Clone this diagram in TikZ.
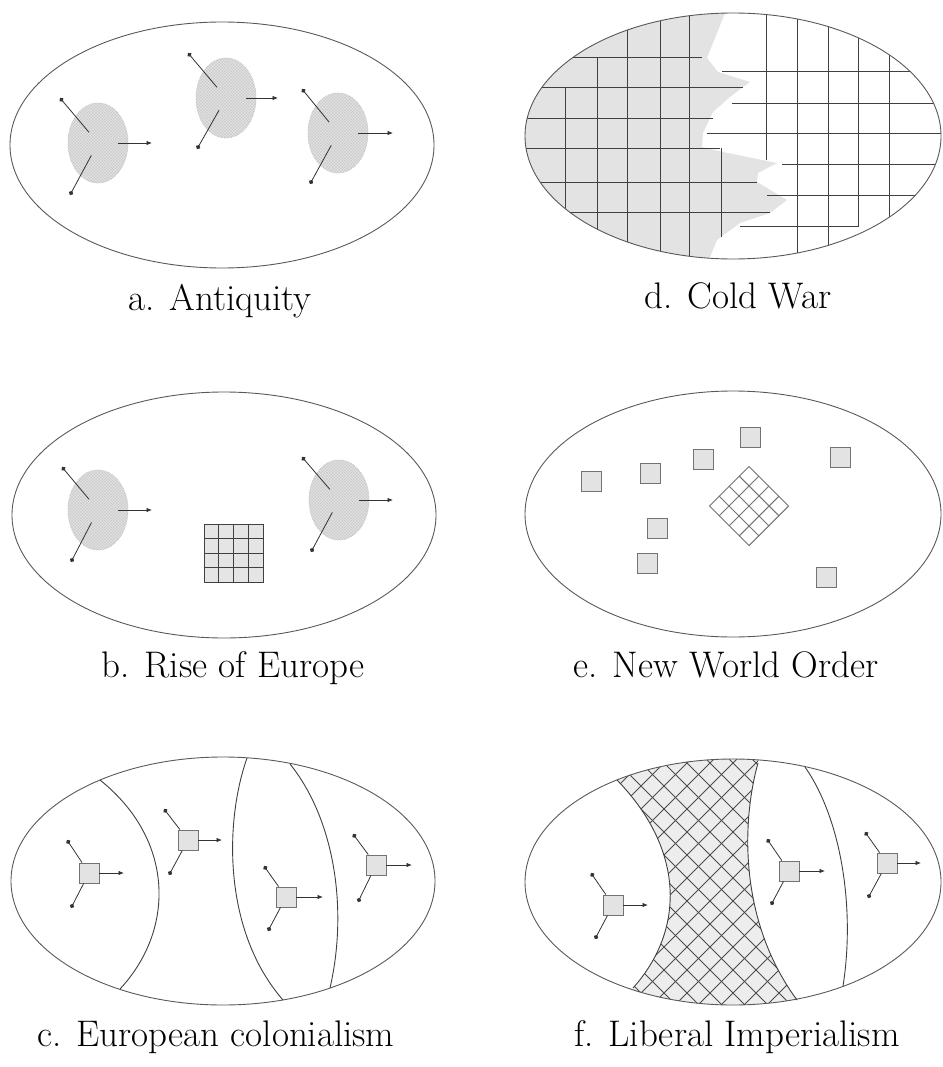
\documentclass[tikz,border=0pt]{standalone}
\usetikzlibrary{arrows.meta,patterns,shapes.geometric,calc}
\begin{document}
\begin{tikzpicture}[x=1pt,y=-1pt,
 frame/.style={draw=black!65, line width=0.9pt},
 blob/.style={ellipse, minimum width=60pt, minimum height=80pt, inner sep=0pt, draw=gray!45, densely dotted, line width=0.8pt, preaction={fill=gray!25}, pattern=crosshatch, pattern color=gray!45},
 ray/.style={draw=black!80, line width=0.8pt, -{Circle[length=4.5pt]}},
 push/.style={draw=black!80, line width=0.8pt, -{Latex[length=5.5pt,width=4.5pt]}},
 colony/.style={rectangle, minimum size=20pt, inner sep=0pt, draw=black!55, line width=0.9pt, fill=gray!22},
 state/.style={rectangle, minimum size=20pt, inner sep=0pt, draw=black!55, line width=0.9pt, fill=gray!22},
 border/.style={draw=black!75, line width=0.9pt},
 gridline/.style={draw=black!75, line width=0.8pt},
 caption/.style={font=\fontsize{37}{40}\selectfont, anchor=base, inner sep=0pt},
]
\useasboundingbox (0,0) rectangle (942,1067);

% ---------- a. Antiquity ----------
\draw[frame] (222,145) ellipse [x radius=212, y radius=123];
\node[blob] (a1) at (98,143) {};
\node[blob] (a2) at (226,98) {};
\node[blob] (a3) at (338,133) {};
\coordinate (a1u) at (60,98);  \coordinate (a1d) at (70,195);  \coordinate (a1r) at (152,143);
\coordinate (a2u) at (188,53); \coordinate (a2d) at (197,149); \coordinate (a2r) at (278,98);
\coordinate (a3u) at (302,89); \coordinate (a3d) at (310,184); \coordinate (a3r) at (393,133);
\foreach \b in {a1,a2,a3}{
  \draw[ray, shorten <=14pt] (\b.center) -- (\b u);
  \draw[ray, shorten <=14pt] (\b.center) -- (\b d);
  \draw[push, shorten <=20pt] (\b.center) -- (\b r);
}
\node[caption] (la) at (220,310) {a. Antiquity};

% ---------- b. Rise of Europe ----------
\draw[frame] (224,515) ellipse [x radius=212, y radius=123];
\node[blob] (b1) at (98,510) {};
\node[blob] (b2) at (339,500) {};
\coordinate (b1u) at (62,467);  \coordinate (b1d) at (71,562);  \coordinate (b1r) at (152,510);
\coordinate (b2u) at (302,457); \coordinate (b2d) at (311,552); \coordinate (b2r) at (393,500);
\foreach \b in {b1,b2}{
  \draw[ray, shorten <=14pt] (\b.center) -- (\b u);
  \draw[ray, shorten <=14pt] (\b.center) -- (\b d);
  \draw[push, shorten <=20pt] (\b.center) -- (\b r);
}
\node[rectangle, minimum width=59pt, minimum height=58pt, inner sep=0pt, fill=gray!20, gridline] (bg) at (233.5,553) {};
\foreach \i in {1,2,3}{
  \draw[gridline] ($(bg.north west)!\i/4!(bg.north east)$) -- ($(bg.south west)!\i/4!(bg.south east)$);
  \draw[gridline] ($(bg.north west)!\i/4!(bg.south west)$) -- ($(bg.north east)!\i/4!(bg.south east)$);
}
\node[caption] (lb) at (233,677) {b. Rise of Europe};

% ---------- c. European colonialism ----------
\draw[frame] (223,881) ellipse [x radius=212, y radius=124];
\draw[border] (100,780) .. controls (175,840) and (175,930) .. (120,989);
\draw[border] (247,758) .. controls (225,820) and (222,930) .. (283,1000);
\draw[border] (290,764) .. controls (335,820) and (348,910) .. (330,988);
\coordinate (c1u) at (67,840);  \coordinate (c1d) at (71,908);  \coordinate (c1r) at (124,873);
\coordinate (c2u) at (164,809); \coordinate (c2d) at (169,875); \coordinate (c2r) at (222,840);
\coordinate (c3u) at (264,866); \coordinate (c3d) at (268,931); \coordinate (c3r) at (323,897);
\coordinate (c4u) at (353,834); \coordinate (c4d) at (358,902); \coordinate (c4r) at (412,865);
\node[colony] (c1) at (89,873) {};
\node[colony] (c2) at (188,840) {};
\node[colony] (c3) at (286,897) {};
\node[colony] (c4) at (376,865) {};
\foreach \b in {c1,c2,c3,c4}{
  \draw[ray] (\b) -- (\b u);
  \draw[ray] (\b) -- (\b d);
  \draw[push] (\b) -- (\b r);
}
\node[caption] (lc) at (216,1046) {c. European colonialism};

% ---------- d. Cold War ----------
\begin{scope}
  \clip (733,136) ellipse [x radius=208, y radius=123];
  \fill[gray!22] (520,0) -- (725,13) -- (707,58) -- (718,72) -- (750,82) -- (730,97) -- (713,112)
     -- (703,133) -- (702,147) -- (723,152) -- (777,163) -- (758,173) -- (757,182) -- (787,200)
     -- (770,213) -- (740,223) -- (717,240) -- (708,262) -- (520,262) -- cycle;
  % western grid
  \draw[gridline] (520,57) -- (702,57);
  \draw[gridline] (520,87) -- (743,87);
  \draw[gridline] (520,118) -- (713,118);
  \draw[gridline] (520,148) -- (720,148);
  \draw[gridline] (520,182) -- (757,182);
  \draw[gridline] (520,212) -- (770,212);
  \draw[gridline] (565,87) -- (565,262);
  \draw[gridline] (597,57) -- (597,262);
  \draw[gridline] (627,0) -- (627,262);
  \draw[gridline] (660,0) -- (660,262);
  \draw[gridline] (689,0) -- (689,262);
  \draw[gridline] (721,148) -- (721,237);
  % eastern grid
  \draw[gridline] (722,71) -- (945,71);
  \draw[gridline] (732,103) -- (945,103);
  \draw[gridline] (707,133) -- (945,133);
  \draw[gridline] (782,164) -- (945,164);
  \draw[gridline] (767,195) -- (945,195);
  \draw[gridline] (740,226) -- (858,226);
  \draw[gridline] (766,0) -- (766,160);
  \draw[gridline] (797,0) -- (797,262);
  \draw[gridline] (828,0) -- (828,262);
  \draw[gridline] (858,0) -- (858,227);
  \draw[gridline] (889,0) -- (889,262);
\end{scope}
\draw[frame] (733,136) ellipse [x radius=208, y radius=123];
\node[caption] (ld) at (738,308) {d. Cold War};

% ---------- e. New World Order ----------
\draw[frame] (733,514) ellipse [x radius=208, y radius=123];
\node[state] (e1) at (591,481) {};
\node[state] (e2) at (650,473) {};
\node[state] (e3) at (703,459) {};
\node[state] (e4) at (750,437) {};
\node[state] (e5) at (840,457) {};
\node[state] (e6) at (657,528) {};
\node[state] (e7) at (647,563) {};
\node[state] (e8) at (826,577) {};
\node[rectangle, rotate=45, minimum size=56pt, inner sep=0pt, fill=white, draw=black!55, line width=0.9pt] (dia) at (749,506) {};
\foreach \i in {1,2,3}{
  \draw[draw=black!55, line width=0.9pt] ($(dia.north west)!\i/4!(dia.north east)$) -- ($(dia.south west)!\i/4!(dia.south east)$);
  \draw[draw=black!55, line width=0.9pt] ($(dia.north west)!\i/4!(dia.south west)$) -- ($(dia.north east)!\i/4!(dia.south east)$);
}
\node[caption] (le) at (726,677) {e. New World Order};

% ---------- f. Liberal Imperialism ----------
\begin{scope}
  \clip (733,882) ellipse [x radius=208, y radius=123];
  \clip (610,740) -- (617,780) .. controls (685,850) and (685,930) .. (633,988) -- (628,1020)
        -- (805,1020) -- (797,1000) .. controls (738,920) and (742,820) .. (758,763) -- (762,740) -- cycle;
  \fill[gray!14] (500,740) rectangle (900,1020);
  \foreach \k in {-14,...,30}{
    \draw[draw=black!70, line width=0.8pt] (480+\k*23,740) -- ++(290,290);
    \draw[draw=black!70, line width=0.8pt] (480+\k*23,740) -- ++(-290,290);
  }
\end{scope}
\draw[frame] (733,882) ellipse [x radius=208, y radius=123];
\draw[border] (617,780) .. controls (685,850) and (685,930) .. (633,988);
\draw[border] (758,763) .. controls (742,820) and (738,920) .. (797,1000);
\draw[border] (805,767) .. controls (842,820) and (855,910) .. (843,986);
\coordinate (f1u) at (591,873); \coordinate (f1d) at (595,939); \coordinate (f1r) at (648,905);
\coordinate (f2u) at (767,839); \coordinate (f2d) at (771,905); \coordinate (f2r) at (825,871);
\coordinate (f3u) at (865,832); \coordinate (f3d) at (868,898); \coordinate (f3r) at (921,863);
\node[colony] (f1) at (613,905) {};
\node[colony] (f2) at (789,871) {};
\node[colony] (f3) at (887,863) {};
\foreach \b in {f1,f2,f3}{
  \draw[ray] (\b) -- (\b u);
  \draw[ray] (\b) -- (\b d);
  \draw[push] (\b) -- (\b r);
}
\node[caption] (lf) at (737,1046) {f. Liberal Imperialism};
\end{tikzpicture}
\end{document}
